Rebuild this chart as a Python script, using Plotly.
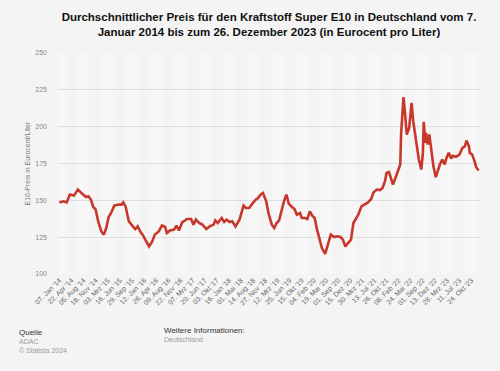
import plotly.graph_objects as go

# ---- data (week index since 07.01.2014, price in Eurocent/Liter) ----
week = [0, 5, 9, 13, 18, 23, 28, 33, 36, 39, 42, 45, 48, 52, 55, 58, 61, 64, 68, 73,
        77, 79, 82, 86, 91, 94, 97, 100, 103, 106, 111, 115, 118, 123, 127, 131, 133, 137, 142, 145,
        148, 152, 158, 163, 166, 169, 173, 177, 182, 186, 191, 193, 196, 201, 204, 207, 211, 214, 218, 223,
        228, 231, 235, 239, 243, 246, 249, 252, 256, 259, 263, 266, 269, 272, 275, 278, 281, 284, 287, 291,
        294, 298, 300, 304, 307, 310, 313, 316, 319, 322, 325, 329, 332, 336, 340, 344, 348, 351, 354, 358,
        361, 364, 366, 370, 374, 378, 382, 386, 389, 393, 397, 400, 403, 405, 408, 411, 413, 416, 419, 422,
        423, 426, 428, 430, 433, 436, 438, 442, 445, 448, 450, 451, 453, 454, 456, 458, 461, 463, 466, 469,
        471, 474, 477, 479, 482, 485, 487, 491, 495, 499, 502, 504, 507, 508, 511, 514, 516, 519]
price = [148.6, 149.3, 148.6, 153.9, 153.2, 157.3, 154.6, 152.3, 152.8, 150.5, 145.5, 143.7, 135.7, 128.9, 126.7, 131.2, 138.7, 141.4, 146.4, 147.1,
         147.1, 148.6, 145.9, 135.7, 132.3, 130.5, 132.3, 128.9, 126.7, 123.3, 118.7, 122.1, 126.7, 128.9, 133.0, 131.9, 127.8, 129.6, 130.1, 132.8,
         129.6, 135.0, 137.3, 137.3, 133.5, 136.9, 134.6, 133.5, 130.5, 132.3, 133.5, 136.4, 134.6, 138.0, 135.3, 136.9, 135.3, 135.8, 132.3, 136.9,
         146.4, 144.8, 144.8, 147.8, 150.5, 151.6, 153.9, 155.0, 149.5, 141.0, 133.5, 131.2, 134.6, 136.4, 143.7, 149.3, 153.9, 147.8, 145.9, 144.1,
         140.3, 141.4, 138.0, 138.0, 137.3, 142.5, 139.6, 138.0, 130.1, 123.3, 117.6, 113.7, 118.7, 126.7, 125.1, 125.6, 125.1, 123.3, 118.7, 121.0,
         123.3, 134.6, 136.4, 140.3, 145.9, 147.1, 148.6, 150.9, 155.4, 157.3, 157.0, 158.4, 162.9, 168.6, 169.3, 164.1, 160.7, 165.2, 169.3, 174.3,
         194.7, 220.0, 208.3, 194.7, 199.2, 216.2, 203.7, 190.1, 177.7, 170.9, 182.2, 203.3, 189.0, 195.8, 187.8, 194.7, 183.4, 173.2, 165.7, 172.0,
         174.3, 177.7, 174.3, 178.4, 182.2, 178.4, 180.3, 179.6, 180.9, 185.6, 186.7, 190.6, 186.7, 182.2, 181.1, 176.5, 172.5, 170.3]

tick_labels = ["07. Jan '14", "22. Apr '14", "05. Aug '14", "18. Nov '14", "03. Mrz '15", "16. Jun '15",
               "29. Sep '15", "12. Jan '16", "26. Apr '16", "09. Aug '16", "22. Nov '16", "07. Mrz '17",
               "20. Jun '17", "03. Okt '17", "16. Jan '18", "01. Mai '18", "14. Aug '18", "27. Nov '18",
               "12. Mrz '19", "25. Jun '19", "15. Okt '19", "04. Feb '20", "19. Mai '20", "01. Sep '20",
               "15. Dez '20", "30. Mrz '21", "13. Jul '21", "26. Okt '21", "08. Feb '22", "24. Mai '22",
               "01. Sep '22", "13. Dez '22", "28. Mrz '23", "11. Jul '23", "24. Okt '23"]
tick_step = 15
y_ticks = [100, 125, 150, 175, 200, 225, 250]

title_text = ("<b>Durchschnittlicher Preis für den Kraftstoff Super E10 in Deutschland vom 7.<br>"
              "Januar 2014 bis zum 26. Dezember 2023 (in Eurocent pro Liter)</b>")

# ---- layout geometry (pixels) ----
W, H = 500, 371
L, R, T, B = 58, 20, 53, 97
pw, ph = W - L - R, H - T - B


def px(x):
    return (x - L) / pw


def py(y):
    return (H - B - y) / ph


FONT = "Liberation Sans, Arial, Helvetica, sans-serif"

fig = go.Figure()
fig.add_trace(go.Scatter(
    x=week, y=price, mode="lines",
    line=dict(color="#c8372c", width=2.6),
    hoverinfo="x+y", showlegend=False,
))

tickvals = [i * tick_step for i in range(len(tick_labels))]

# subtle alternating vertical bands
shapes = []
for i in range(0, len(tick_labels) + 1, 2):
    shapes.append(dict(type="rect", xref="x", yref="paper",
                       x0=i * tick_step - 7.5, x1=i * tick_step + 7.5, y0=0, y1=1,
                       fillcolor="#f7f7f7", line=dict(width=0), layer="below"))

annotations = [
    dict(text="Quelle", x=px(17), y=py(332), xref="paper", yref="paper", xanchor="left", yanchor="middle",
         showarrow=False, font=dict(family=FONT, size=8, color="#333333")),
    dict(text="ADAC", x=px(17), y=py(341), xref="paper", yref="paper", xanchor="left", yanchor="middle",
         showarrow=False, font=dict(family=FONT, size=7, color="#9a9a9a")),
    dict(text="© Statista 2024", x=px(17), y=py(350), xref="paper", yref="paper", xanchor="left", yanchor="middle",
         showarrow=False, font=dict(family=FONT, size=7, color="#9a9a9a")),
    dict(text="Weitere Informationen:", x=px(162), y=py(330), xref="paper", yref="paper", xanchor="left",
         yanchor="middle", showarrow=False, font=dict(family=FONT, size=8, color="#333333")),
    dict(text="Deutschland", x=px(162), y=py(339), xref="paper", yref="paper", xanchor="left",
         yanchor="middle", showarrow=False, font=dict(family=FONT, size=7, color="#9a9a9a")),
    dict(text="E10-Preis in Eurocent/Liter", x=px(27), y=0.5, xref="paper", yref="paper", textangle=-90,
         xanchor="center", yanchor="middle", showarrow=False, font=dict(family=FONT, size=7, color="#777777")),
]

fig.update_layout(
    width=W, height=H,
    margin=dict(l=L, r=R, t=T, b=B, autoexpand=False),
    paper_bgcolor="#f4f4f4", plot_bgcolor="#f4f4f4",
    title=dict(text=title_text, x=0.5, xref="paper", y=1 - 21 / H, yanchor="top",
               font=dict(family=FONT, size=11.5, color="#111111")),
    font=dict(family=FONT, color="#666666"),
    xaxis=dict(range=[-1.7, 520.7], tickmode="array", tickvals=tickvals, ticktext=tick_labels,
               tickangle=-45, tickfont=dict(size=7, color="#666666"), showgrid=False,
               zeroline=False, showline=False, ticks="", automargin=False),
    yaxis=dict(range=[100, 250], tickmode="array", tickvals=y_ticks, tickfont=dict(size=7, color="#888888"),
               showgrid=True, gridcolor="#dedede", gridwidth=1, zeroline=False, showline=False, ticks="",
               ticklabelstandoff=10, automargin=False),
    shapes=shapes,
    annotations=annotations,
)

fig.write_html("out.html", config={"displayModeBar": False},
               post_script="document.body.style.margin='0';document.body.style.background='#f4f4f4';")
